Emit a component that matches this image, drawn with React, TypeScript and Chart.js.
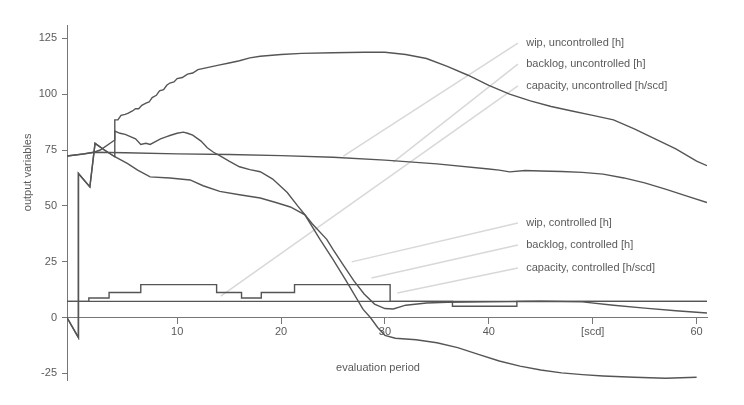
import React, { useEffect, useRef } from "react";
import { Chart, registerables } from "chart.js";

Chart.register(...registerables);

// ---------- data ----------
const xTicks = [10, 20, 30, 40, 50, 60];
const xTickLabels = ["10", "20", "30", "40", "[scd]", "60"];
const yTicks = [-25, 0, 25, 50, 75, 100, 125];

// wip, uncontrolled [h]
const wipUncX = [-0.6, 1, 2, 5, 10, 15, 20, 25, 30, 35, 40, 41, 42, 43.5, 45, 47, 49, 51, 53, 55, 57, 59, 61];
const wipUncY = [72.3, 73.3, 74, 73.8, 73.3, 73, 72.5, 71.8, 70.5, 68.8, 66.5, 66, 65.2, 65.8, 65.6, 65.4, 65, 64.2, 62.5, 60.3, 57.5, 54.5, 51.5];

// backlog, uncontrolled [h]
const backlogUncX = [-0.6, 0.5, 0.5, 1.6, 2.1, 3, 4, 4, 4.3, 4.6, 5, 5.3, 5.7, 6, 6.3, 6.6, 7, 7.3, 7.6, 8, 8.3, 8.7, 9, 9.3, 9.7, 10, 10.5, 11, 11.5, 12, 13, 14, 15, 16, 17, 18, 20, 22, 25, 28, 30, 32, 34, 36, 38, 40, 42, 44, 46, 48, 50, 52, 54, 56, 58, 60, 61];
const backlogUncY = [0, -9, 64.5, 58.5, 78, 75, 72, 88.5, 88.5, 90.5, 91, 91.5, 92.5, 93.5, 93.5, 95, 96, 96.5, 98.5, 99.5, 101.5, 102, 104, 105, 105.5, 107, 107.5, 109, 109.5, 111, 112, 113, 114, 115, 116.3, 117, 117.8, 118.3, 118.6, 118.8, 118.8, 117.8, 116, 112.5, 108.5, 104, 100, 97, 94.5, 92.5, 90.5, 88.5, 84.5, 80, 75.5, 70, 68];

// capacity, uncontrolled [h/scd]
const capUncX = [-0.6, 61];
const capUncY = [7.2, 7.2];

// wip, controlled [h]
const wipCtrlX = [-0.6, 1, 2, 2.6, 4, 4, 4.5, 5, 5.5, 6, 6.5, 7, 7.4, 8, 8.4, 9, 9.3, 10, 10.6, 11, 11.5, 12.3, 12.9, 13.5, 14.1, 15, 16, 17, 18, 19.2, 20.6, 21.6, 22.3, 23, 24.4, 25, 26, 27, 28, 29, 30, 30.8, 32, 34, 36, 40, 45, 49, 52, 55, 58, 61];
const wipCtrlY = [72.3, 73.2, 74, 75, 79.5, 83.5, 82.5, 82, 81, 80, 77.5, 78, 77.5, 79, 80, 81, 81.5, 82.5, 83, 82.5, 81.7, 79, 76, 74, 72.5, 70, 67.5, 66.2, 65.3, 62, 56, 50, 46, 42, 35, 30.5, 23.5, 16.5, 10.5, 6, 4, 3.8, 5.5, 6.5, 6.8, 7, 7.3, 7, 5.5, 4.2, 3, 2];

// backlog, controlled [h]
const backlogCtrlX = [-0.6, 0.5, 0.5, 1.6, 2.1, 3, 4, 5.2, 6.2, 7.4, 9.3, 11.25, 12.5, 14.1, 16, 18, 19.5, 20.9, 22.3, 23.75, 25, 26.2, 27.9, 28.6, 29.3, 30, 31, 33, 35, 37, 39, 41, 43, 45, 47, 49, 51, 54, 57, 60];
const backlogCtrlY = [0, -9, 64.5, 58.5, 78, 75, 72, 69, 66, 63, 62.5, 61.6, 59, 56.5, 55, 53.5, 51.5, 49.5, 46, 35, 26, 17, 3.6, 0, -4.5, -8, -9.3, -10, -11.3, -13.5, -16.5, -19.5, -21.8, -23.5, -24.8, -25.6, -26.2, -26.8, -27.2, -26.8];

// capacity, controlled [h/scd]  (value holds until next change)
const capCtrlX = [-0.6, 1.5, 3.45, 6.5, 13.8, 16.2, 18.1, 21.3, 30.5, 36.5, 42.7, 61];
const capCtrlY = [7.2, 8.7, 11.2, 14.7, 11.2, 8.7, 11.2, 14.7, 7.2, 5.0, 7.2, 7.2];

// annotation labels (anchored in data units)
const labelTexts = [
  "wip, uncontrolled [h]",
  "backlog, uncontrolled [h]",
  "capacity, uncontrolled [h/scd]",
  "wip, controlled [h]",
  "backlog, controlled [h]",
  "capacity, controlled [h/scd]",
];
const labelX = 43.6;
const leaderStartX = 42.8;
const labelY = [122.9, 113.5, 103.7, 42.3, 32.5, 22.2];
const leaderEndX = [26.0, 30.8, 14.2, 26.8, 28.7, 31.2];
const leaderEndY = [72.3, 69.6, 9.6, 24.9, 17.7, 11.0];

// ---------- chart ----------
const FONT = "'Liberation Sans', Arial, sans-serif";
const LINE = "#555";
const TEXT = "#5a5a5a";

const toPts = (xs: number[], ys: number[]) => xs.map((x, i) => ({ x, y: ys[i] }));

const annotate = {
  id: "annotate",
  beforeDatasetsDraw(chart: any) {
    const { ctx, scales } = chart;
    const x = scales.x;
    const y = scales.y;
    ctx.save();
    ctx.strokeStyle = "#d8d8d8";
    ctx.lineWidth = 1.5;
    for (let i = 0; i < labelTexts.length; i++) {
      ctx.beginPath();
      ctx.moveTo(x.getPixelForValue(leaderStartX), y.getPixelForValue(labelY[i]));
      ctx.lineTo(x.getPixelForValue(leaderEndX[i]), y.getPixelForValue(leaderEndY[i]));
      ctx.stroke();
    }
    ctx.restore();
  },
  afterDraw(chart: any) {
    const { ctx, scales, chartArea } = chart;
    const x = scales.x;
    const y = scales.y;
    ctx.save();
    ctx.fillStyle = TEXT;
    ctx.font = `11px ${FONT}`;
    ctx.textAlign = "left";
    ctx.textBaseline = "middle";
    for (let i = 0; i < labelTexts.length; i++) {
      ctx.fillText(labelTexts[i], x.getPixelForValue(labelX), y.getPixelForValue(labelY[i]));
    }
    // axis titles
    ctx.textAlign = "center";
    ctx.fillText("evaluation period", chartArea.left + 311, chartArea.bottom - 12);
    ctx.translate(28, y.getPixelForValue(65));
    ctx.rotate(-Math.PI / 2);
    ctx.fillText("output variables", 0, 0);
    ctx.restore();
  },
};

export default function App() {
  const ref = useRef<HTMLCanvasElement | null>(null);

  useEffect(() => {
    document.body.style.margin = "0";
    const canvas = ref.current;
    if (!canvas) return;
    const ds = (label: string, xs: number[], ys: number[], extra: any = {}) => ({
      label,
      data: toPts(xs, ys),
      borderColor: LINE,
      backgroundColor: LINE,
      borderWidth: 1.4,
      pointRadius: 0,
      tension: 0,
      fill: false,
      ...extra,
    });
    const chart = new Chart(canvas, {
      type: "line",
      data: {
        datasets: [
          ds("capacity, uncontrolled [h/scd]", capUncX, capUncY),
          ds("capacity, controlled [h/scd]", capCtrlX, capCtrlY, { stepped: "before" }),
          ds("wip, uncontrolled [h]", wipUncX, wipUncY),
          ds("backlog, uncontrolled [h]", backlogUncX, backlogUncY),
          ds("wip, controlled [h]", wipCtrlX, wipCtrlY),
          ds("backlog, controlled [h]", backlogCtrlX, backlogCtrlY),
        ],
      },
      options: {
        animation: false,
        responsive: false,
        devicePixelRatio: 1,
        layout: { padding: { left: 0, top: 25, right: 37, bottom: 25 } },
        plugins: { legend: { display: false }, tooltip: { enabled: false } },
        scales: {
          x: {
            type: "linear",
            min: -0.6,
            max: 61,
            position: { y: 0 } as any,
            border: { color: "#777", width: 1 },
            grid: { drawOnChartArea: false, drawTicks: true, tickLength: 6, color: "#777" },
            ticks: {
              color: TEXT,
              font: { family: FONT, size: 11 },
              padding: 2,
              maxRotation: 0,
              autoSkip: false,
              callback: (v: any) => {
                const i = xTicks.indexOf(Number(v));
                return i >= 0 ? xTickLabels[i] : "";
              },
            },
            afterBuildTicks: (axis: any) => {
              axis.ticks = xTicks.map((v) => ({ value: v }));
            },
          },
          y: {
            type: "linear",
            min: -28,
            max: 131,
            position: "left",
            border: { color: "#777", width: 1 },
            grid: { drawOnChartArea: false, drawTicks: true, tickLength: 5, color: "#777" },
            ticks: {
              color: TEXT,
              font: { family: FONT, size: 11 },
              padding: 5,
            },
            afterBuildTicks: (axis: any) => {
              axis.ticks = yTicks.map((v) => ({ value: v }));
            },
            afterFit: (axis: any) => {
              axis.width = 67;
            },
          },
        },
      },
      plugins: [annotate],
    });
    return () => chart.destroy();
  }, []);

  return (
    <div style={{ width: 744, height: 405, background: "#fff" }}>
      <canvas ref={ref} width={744} height={405} style={{ display: "block" }} />
    </div>
  );
}
